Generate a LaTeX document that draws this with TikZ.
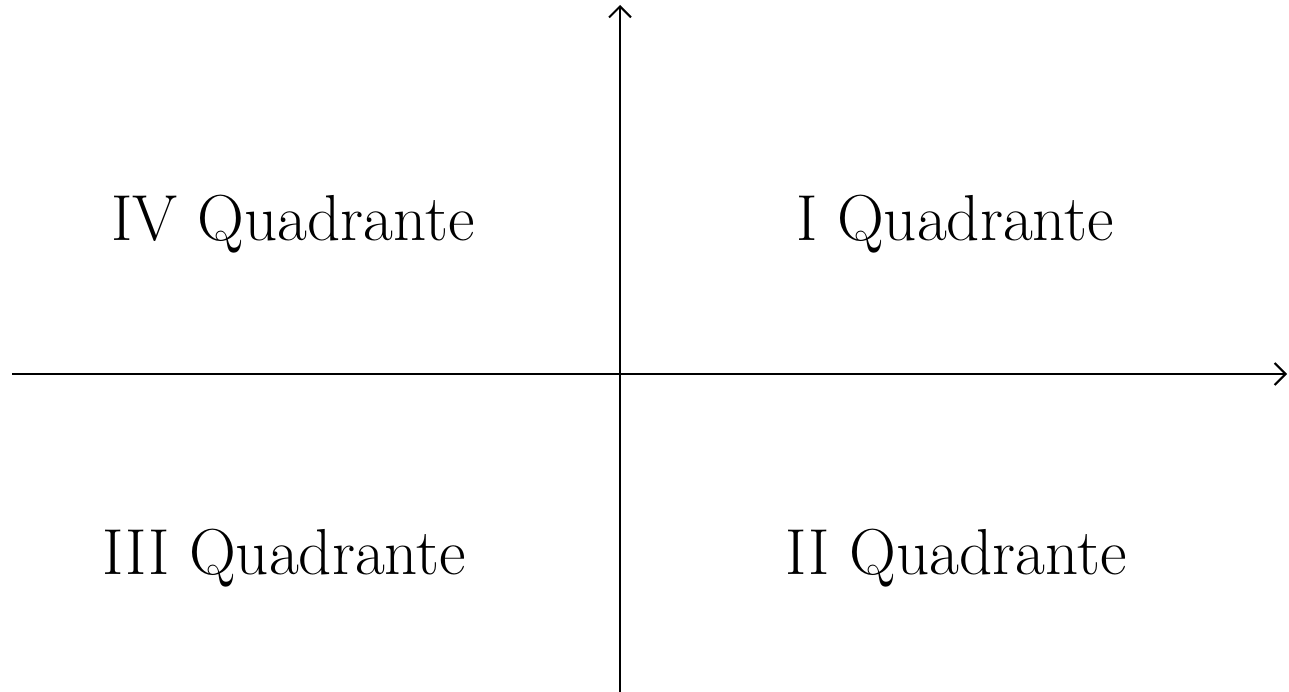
\documentclass[tikz,border=0pt]{standalone}
\usetikzlibrary{arrows.meta}
\begin{document}
\begin{tikzpicture}[x=1pt,y=-1pt,
  axis/.style={line width=2pt,-{Straight Barb[length=11pt,width=22pt,line width=2pt]}},
  quad/.style={font=\fontsize{65}{68}\selectfont,inner sep=0pt,anchor=base}]
\useasboundingbox (0,0) rectangle (1289,692);
\coordinate (hl) at (12,374);
\coordinate (hr) at (1287,374);
\coordinate (vb) at (620,692);
\coordinate (vt) at (620,5);
\draw[axis] (hl) -- (hr);
\draw[axis] (vb) -- (vt);
\node[quad] (q4) at (293,241) {IV Quadrante};
\node[quad] (q1) at (955,241) {I Quadrante};
\node[quad] (q3) at (284,574) {III Quadrante};
\node[quad] (q2) at (956,574) {II Quadrante};
\end{tikzpicture}
\end{document}
